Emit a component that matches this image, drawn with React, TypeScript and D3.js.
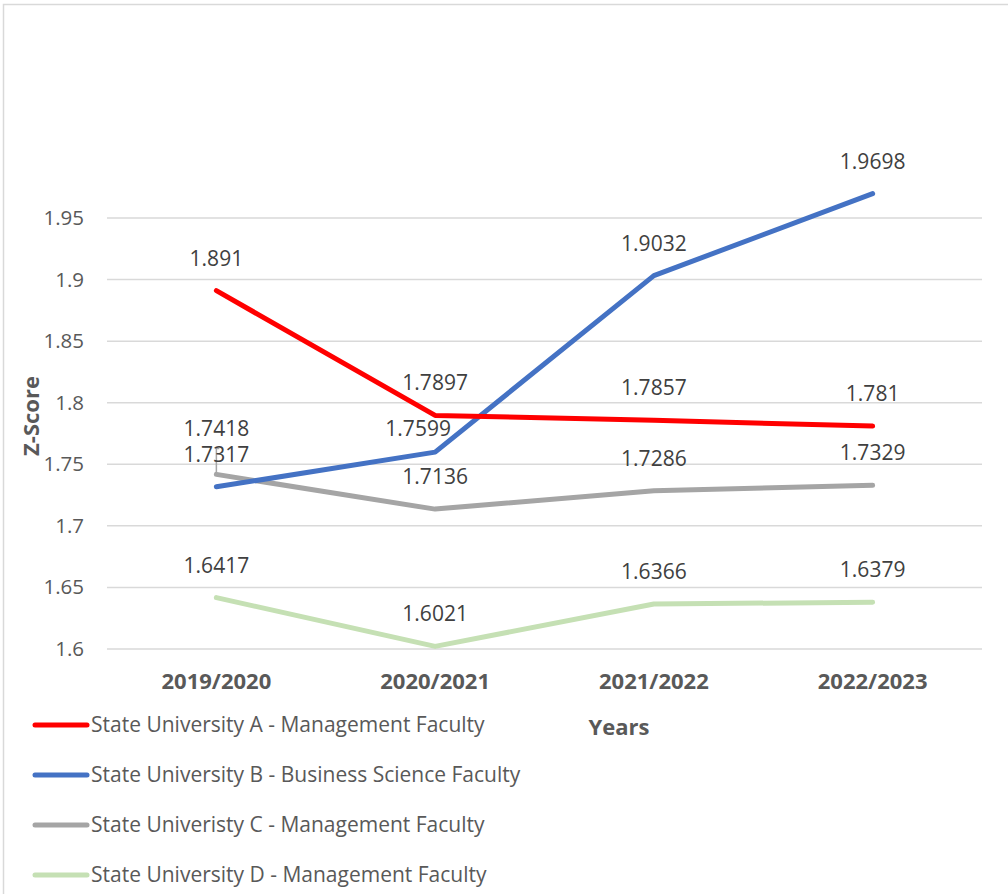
import { useEffect, useRef } from 'react'
import * as d3 from 'd3'

const years = ['2019/2020', '2020/2021', '2021/2022', '2022/2023']
const uniA = [1.891, 1.7897, 1.7857, 1.781]
const uniB = [1.7317, 1.7599, 1.9032, 1.9698]
const uniC = [1.7418, 1.7136, 1.7286, 1.7329]
const uniD = [1.6417, 1.6021, 1.6366, 1.6379]
const seriesNames = [
  'State University A - Management Faculty',
  'State University B - Business Science Faculty',
  'State Univeristy C - Management Faculty',
  'State University D - Management Faculty',
]
const yTicks = [1.6, 1.65, 1.7, 1.75, 1.8, 1.85, 1.9, 1.95]

export default function App() {
  const svgRef = useRef<SVGSVGElement>(null)
  const width = 1008
  const height = 894

  useEffect(() => {
    if (!svgRef.current) return
    d3.select(svgRef.current).selectAll('*').remove()

    const svg = d3.select(svgRef.current)
    const font = '"Open Sans", "DejaVu Sans", sans-serif'
    const colors = ['#FF0000', '#4472C4', '#A5A5A5', '#C5E0B4']
    const allSeries = [uniA, uniB, uniC, uniD]

    svg.append('rect')
      .attr('x', 0).attr('y', 0).attr('width', width).attr('height', height)
      .attr('fill', '#fff')
    // outer chart border (runs off right/bottom)
    svg.append('rect')
      .attr('x', 3.5).attr('y', 4.5).attr('width', width + 20).attr('height', height + 20)
      .attr('fill', 'none').attr('stroke', '#D9D9D9').attr('stroke-width', 1.5)

    const x = d3.scaleBand().domain(years).range([107, 982])
    const y = d3.scaleLinear().domain([1.6, 1.95]).range([649, 218])
    const cx = (d: string) => (x(d) || 0) + x.bandwidth() / 2

    // gridlines
    svg.append('g').selectAll('line')
      .data(yTicks).enter().append('line')
      .attr('x1', 107).attr('x2', 982)
      .attr('y1', d => y(d)).attr('y2', d => y(d))
      .attr('stroke', '#D9D9D9').attr('stroke-width', 1.5)

    // y tick labels
    svg.append('g').selectAll('text')
      .data(yTicks).enter().append('text')
      .attr('x', 84).attr('y', d => y(d) + 7)
      .attr('text-anchor', 'end')
      .style('font-family', font).style('font-size', '20.5px').style('fill', '#595959')
      .text(d => String(d))

    // x tick labels
    svg.append('g').selectAll('text')
      .data(years).enter().append('text')
      .attr('x', d => cx(d)).attr('y', 689)
      .attr('text-anchor', 'middle')
      .style('font-family', font).style('font-size', '22px').style('font-weight', 'bold')
      .style('fill', '#595959')
      .text(d => d)

    // axis titles
    svg.append('text')
      .attr('transform', 'translate(39,416) rotate(-90)')
      .attr('text-anchor', 'middle')
      .style('font-family', font).style('font-size', '22px').style('font-weight', 'bold')
      .style('fill', '#595959')
      .text('Z-Score')
    svg.append('text')
      .attr('x', 619).attr('y', 735)
      .attr('text-anchor', 'middle')
      .style('font-family', font).style('font-size', '22px').style('font-weight', 'bold')
      .style('fill', '#595959')
      .text('Years')

    // leader line for the 1.7418 label
    svg.append('path')
      .attr('d', `M${cx(years[0])},${y(uniC[0])} V${y(uniC[0]) - 26} h3`)
      .attr('fill', 'none').attr('stroke', '#A6A6A6').attr('stroke-width', 1.5)

    const line = d3.line<number>()
      .x((_, i) => cx(years[i]))
      .y(d => y(d))

    // draw D, C, B, A order so A (red) sits over
    const order = [3, 2, 1, 0]
    order.forEach(si => {
      svg.append('path')
        .datum(allSeries[si])
        .attr('d', line)
        .attr('fill', 'none')
        .attr('stroke', colors[si])
        .attr('stroke-width', 5)
        .attr('stroke-linecap', 'round')
        .attr('stroke-linejoin', 'round')
    })

    // label offsets [series][point] -> [dx, dy]
    const offsets: Record<string, [number, number]> = {
      '2-0': [0, -38],
      '1-0': [0, -25],
      '1-1': [-17, -16],
    }
    allSeries.forEach((vals, si) => {
      svg.append('g').selectAll('text')
        .data(vals).enter().append('text')
        .attr('x', (d, i) => cx(years[i]) + (offsets[`${si}-${i}`]?.[0] ?? 0))
        .attr('y', (d, i) => y(d) + (offsets[`${si}-${i}`]?.[1] ?? -25))
        .attr('text-anchor', 'middle')
        .style('font-family', font).style('font-size', '21px').style('fill', '#404040')
        .text(d => String(d))
    })

    // legend
    const legend = svg.append('g')
    seriesNames.forEach((name, i) => {
      const ly = 725 + i * 50
      legend.append('line')
        .attr('x1', 35).attr('x2', 87).attr('y1', ly).attr('y2', ly)
        .attr('stroke', colors[i]).attr('stroke-width', 5).attr('stroke-linecap', 'round')
      legend.append('text')
        .attr('x', 91).attr('y', ly + 7)
        .style('font-family', font).style('font-size', '21px').style('fill', '#595959')
        .text(name)
    })
  }, [])

  return (
    <svg
      ref={svgRef}
      width={width}
      height={height}
      style={{ position: 'absolute', left: 0, top: 0 }}
    />
  )
}
